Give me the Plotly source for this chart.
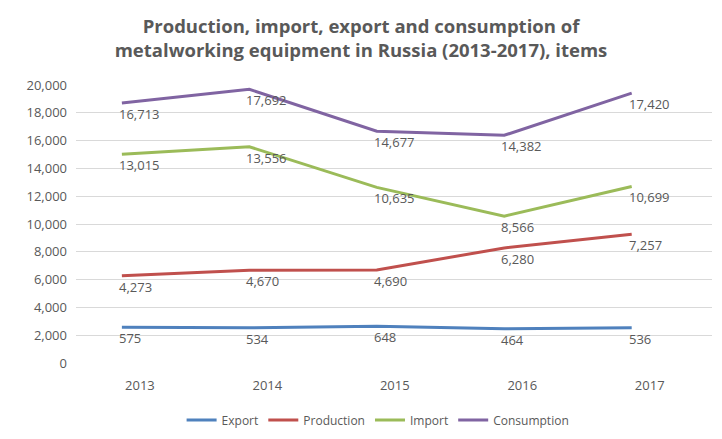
import plotly.graph_objects as go

years = [2013, 2014, 2015, 2016, 2017]
export = [575, 534, 648, 464, 536]
production = [4273, 4670, 4690, 6280, 7257]
imports = [13015, 13556, 10635, 8566, 10699]
consumption = [16713, 17692, 14677, 14382, 17420]

# y-axis tick labels as printed on the chart
y_tick_text = ["0", "2,000", "4,000", "6,000", "8,000", "10,000",
               "12,000", "14,000", "16,000", "18,000", "20,000"]
y_tick_vals = [-2000 + 2000 * i for i in range(len(y_tick_text))]

series = [
    ("Export", export, "#4F81BD"),
    ("Production", production, "#C0504D"),
    ("Import", imports, "#9BBB59"),
    ("Consumption", consumption, "#8064A2"),
]

FONT = "Open Sans"
GREY = "#595959"

fig = go.Figure()
for name, vals, color in series:
    fig.add_trace(go.Scatter(
        x=years, y=vals, name=name, mode="lines",
        line=dict(color=color, width=3),
    ))
    # value labels just below and to the right of each point
    for x, v in zip(years, vals):
        fig.add_annotation(
            x=x, y=v, text=f"{v:,}", showarrow=False,
            xanchor="left", yanchor="top", xshift=-5, yshift=0,
            font=dict(family=FONT, size=13, color=GREY),
        )

fig.update_layout(
    width=722, height=439,
    margin=dict(l=76, r=10, t=85, b=76, autoexpand=False),
    paper_bgcolor="white", plot_bgcolor="white",
    title=dict(
        text="Production, import, export and consumption of<br>"
             "metalworking equipment in Russia (2013-2017), items",
        x=0.5, xanchor="center", y=0.925, yanchor="middle",
        font=dict(family=FONT, size=18.5, color=GREY, weight="bold"),
    ),
    legend=dict(
        orientation="h", x=0.475, xanchor="center",
        yref="container", y=0.043, yanchor="middle",
        font=dict(family=FONT, size=12, color=GREY),
        itemwidth=30,
    ),
    xaxis=dict(
        range=[2013 - 0.36, 2017 + 0.63],
        tickvals=years, ticktext=[str(y) for y in years],
        ticklabelshift=18, ticklabelstandoff=13,
        showgrid=False, zeroline=False, showline=False,
        tickfont=dict(family=FONT, size=13, color=GREY),
    ),
    yaxis=dict(
        range=[-2000, 18000],
        tickvals=y_tick_vals, ticktext=y_tick_text,
        showgrid=True, gridcolor="#D9D9D9", gridwidth=1,
        zeroline=False, showline=False,
        ticklabelstandoff=8,
        tickfont=dict(family=FONT, size=13, color=GREY),
    ),
)

fig.write_html("out.html")
